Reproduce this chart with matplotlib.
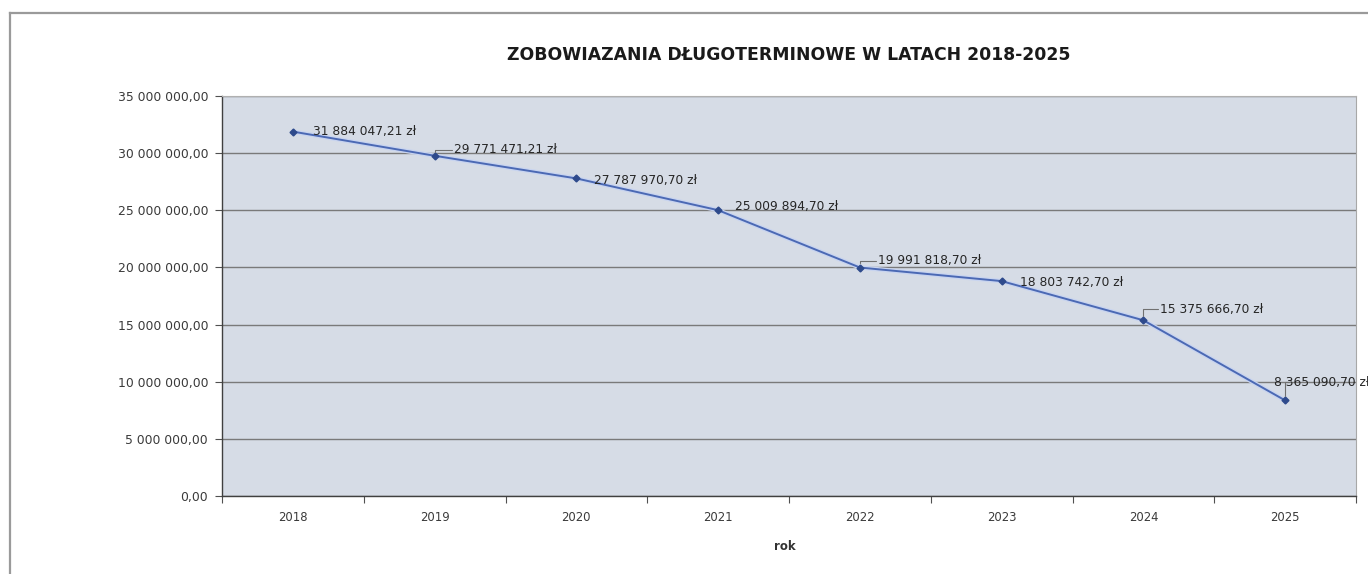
import matplotlib
matplotlib.use("Agg")
import matplotlib.pyplot as plt
from matplotlib.lines import Line2D
from matplotlib.ticker import FuncFormatter, FixedLocator

plt.rcParams['font.family'] = ['DejaVu Sans']

years = ["2018", "2019", "2020", "2021", "2022", "2023", "2024", "2025"]
values = [31884047.21, 29771471.21, 27787970.70, 25009894.70,
          19991818.70, 18803742.70, 15375666.70, 8365090.70]
labels = ["31 884 047,21 zł", "29 771 471,21 zł", "27 787 970,70 zł", "25 009 894,70 zł",
          "19 991 818,70 zł", "18 803 742,70 zł", "15 375 666,70 zł", "8 365 090,70 zł"]
title = "ZOBOWIAZANIA DŁUGOTERMINOWE W LATACH 2018-2025"
xlabel = "rok"

# label offsets in pixels (style)
offsets = [(20, 0), (19, 6), (18, -2), (17, 4), (18, 7), (18, -1), (17, 11), (-11, 18)]
leaders = [False, True, False, False, True, False, True, True]

fig = plt.figure(figsize=(13.68, 5.74), dpi=100)
W, H = 1368, 574
ax = fig.add_axes([222 / W, 78 / H, 1134 / W, 400 / H])
ax.set_facecolor('#D6DCE6')

x = list(range(len(years)))
ax.plot(x, values, color='#C8D4F0', lw=3.2, zorder=3, solid_capstyle='round')
ax.plot(x, values, color='#4B69B4', lw=1.4, zorder=4, marker='D', markersize=3.5,
        markerfacecolor='#2E4A8C', markeredgecolor='#2E4A8C')

for xi, v, lab, off, lead in zip(x, values, labels, offsets, leaders):
    ax.annotate(lab, (xi, v), xytext=off, textcoords='offset pixels',
                fontsize=8.8, color='#262626', ha='left', va='center', zorder=6,
                annotation_clip=False)
    if lead:
        ax.annotate('', (xi, v), xytext=(max(off[0] - 2, 4), off[1]), textcoords='offset pixels',
                    arrowprops=dict(arrowstyle='-', color='#707070', lw=0.8,
                                    shrinkA=0, shrinkB=3,
                                    connectionstyle='angle,angleA=0,angleB=90,rad=0'),
                    zorder=5)

ax.set_xlim(-0.5, len(years) - 0.5)
ax.set_ylim(0, 35000000)
ax.yaxis.set_major_locator(FixedLocator([i * 5000000 for i in range(8)]))

def fmt(v, pos):
    s = f"{v:,.2f}"
    s = s.replace(",", " ").replace(".", ",")
    return s
ax.yaxis.set_major_formatter(FuncFormatter(fmt))

ax.set_xticks(x)
ax.set_xticklabels(years)
ax.set_xticks([i - 0.5 for i in range(len(years) + 1)], minor=True)
ax.tick_params(axis='x', which='major', length=0, pad=11, labelsize=8.4, labelcolor='#3A3A3A')
ax.tick_params(axis='x', which='minor', length=5, width=0.8, color='#505050')
ax.tick_params(axis='y', which='major', length=5, width=0.8, color='#505050',
               labelsize=8.9, labelcolor='#3A3A3A', pad=5)

ax.grid(axis='y', color='#7A7A7A', lw=1.0, zorder=1)
ax.set_axisbelow(True)
for side in ['left', 'bottom']:
    ax.spines[side].set_color('#404040')
    ax.spines[side].set_linewidth(1.0)
ax.spines['right'].set_color('#A8A8A8')
ax.spines['top'].set_color('#B0B0B0')

fig.text(789 / W, 1 - 55 / H, title, ha='center', va='center', fontsize=12.4,
         fontweight='bold', color='#1A1A1A')
fig.text(785 / W, 1 - 547 / H, xlabel, ha='center', va='center', fontsize=8.5,
         fontweight='bold', color='#333333')

# outer chart frame
fig.add_artist(Line2D([10 / W, 10 / W], [0, 1 - 13 / H], transform=fig.transFigure,
                      color='#9A9A9A', lw=1.6))
fig.add_artist(Line2D([10 / W, 1], [1 - 13 / H, 1 - 13 / H], transform=fig.transFigure,
                      color='#9A9A9A', lw=1.6))

fig.savefig("out.png", dpi=100)
